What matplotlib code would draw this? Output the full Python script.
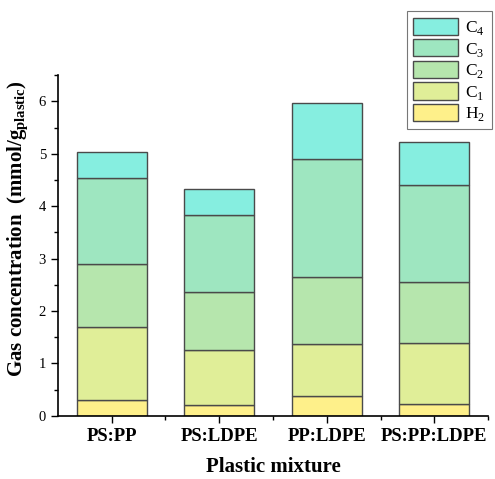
import numpy as np
import matplotlib.pyplot as plt
from matplotlib.ticker import MultipleLocator

plt.rcParams['font.family'] = ['Liberation Serif', 'DejaVu Serif']
plt.rcParams['mathtext.fontset'] = 'custom'
plt.rcParams['mathtext.rm'] = 'Liberation Serif'
plt.rcParams['mathtext.bf'] = 'Liberation Serif:bold'

mixtures = ["PS:PP", "PS:LDPE", "PP:LDPE", "PS:PP:LDPE"]
gases = ["H$_2$", "C$_1$", "C$_2$", "C$_3$", "C$_4$"]
# layer heights, mmol/g plastic
h2 = [0.30, 0.21, 0.38, 0.23]
c1 = [1.40, 1.04, 0.99, 1.16]
c2 = [1.20, 1.12, 1.27, 1.16]
c3 = [1.63, 1.47, 2.27, 1.85]
c4 = [0.51, 0.48, 1.06, 0.82]
colors = ["#fef08a", "#e0ee98", "#b6e6ad", "#9ee6c0", "#86eee0"]


def main():
    fig = plt.figure(figsize=(4.95, 4.79), dpi=100)
    ax = fig.add_axes([0.117, 0.132, 0.869, 0.711])
    x = np.arange(1, len(mixtures) + 1)
    bottom = np.zeros(len(mixtures))
    handles = []
    for vals, lab, col in zip([h2, c1, c2, c3, c4], gases, colors):
        b = ax.bar(x, vals, 0.65, bottom=bottom, color=col,
                   edgecolor="#4a4a4a", linewidth=1.0, label=lab)
        handles.append(b)
        bottom = bottom + np.array(vals)

    ax.set_xlim(0.5, 4.5)
    ax.set_ylim(0, 6.5)
    ax.set_xticks(x)
    ax.set_xticklabels(mixtures, fontsize=13.5, fontweight="bold")
    ax.set_xticks(x + 0.5, minor=True)
    ax.set_yticks(range(0, 7))
    ax.yaxis.set_minor_locator(MultipleLocator(0.5))
    ax.tick_params(axis="y", labelsize=10.5)
    ax.tick_params(which="major", direction="out", length=5, width=1)
    ax.tick_params(which="minor", direction="out", length=3, width=1)
    for s in ["top", "right"]:
        ax.spines[s].set_visible(False)
    for s in ["left", "bottom"]:
        ax.spines[s].set_linewidth(1.2)

    ax.set_xlabel("Plastic mixture", fontsize=15, fontweight="bold", labelpad=9)
    ax.set_ylabel(r"Gas concentration  (mmol/g$_{\mathbf{plastic}}$)",
                  fontsize=15, fontweight="bold")
    ax.yaxis.set_label_coords(-0.063, 0.55)

    leg = fig.legend(handles[::-1], gases[::-1], loc="upper right",
                     bbox_to_anchor=(0.993, 0.976), fontsize=12.5,
                     frameon=True, fancybox=False, edgecolor="#555555",
                     handlelength=2.6, handleheight=1.15, handletextpad=0.4,
                     labelspacing=0.12, borderpad=0.35, borderaxespad=0)
    leg.get_frame().set_linewidth(0.8)

    fig.savefig("out.png", dpi=100)


if __name__ == "__main__":
    main()
